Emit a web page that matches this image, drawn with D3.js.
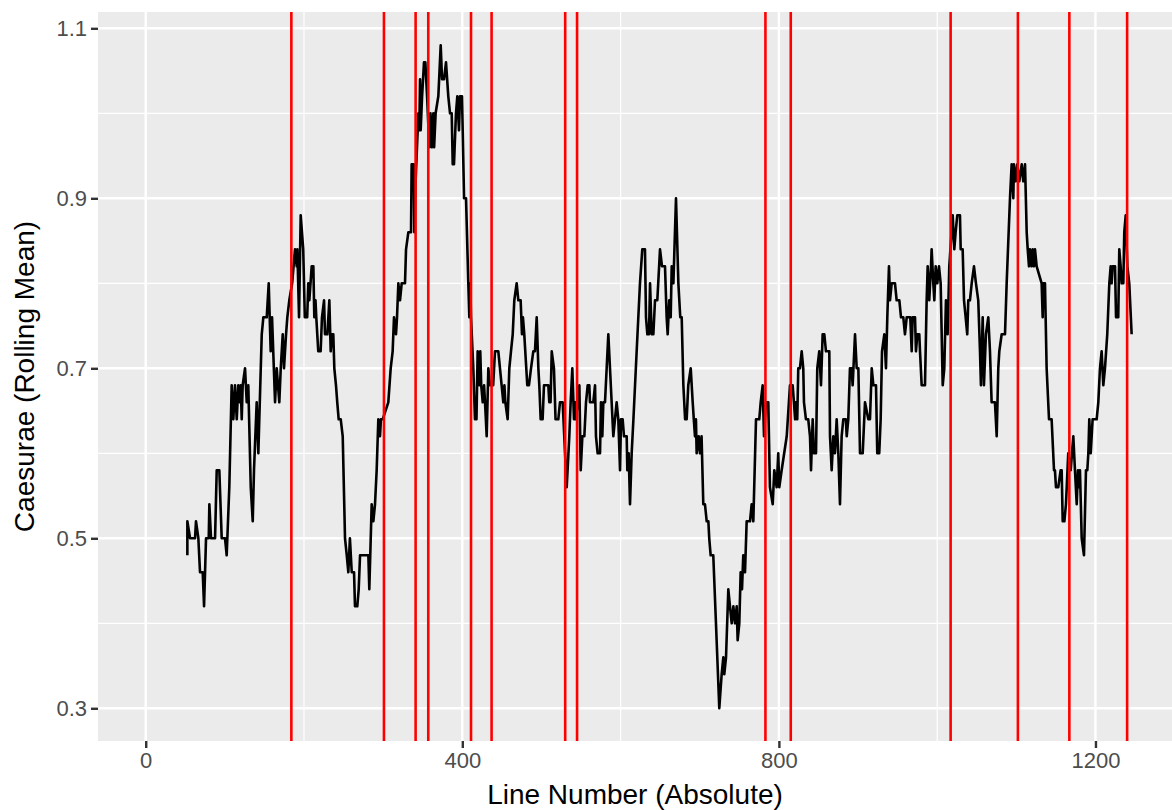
<!DOCTYPE html>
<html>
<head>
<meta charset="utf-8">
<script src="https://cdn.jsdelivr.net/npm/d3@7"></script>
<style>
  body { margin: 0; background: #ffffff; }
  svg { display: block; font-family: "Liberation Sans", Arial, Helvetica, sans-serif; }
</style>
</head>
<body>
<svg id="chart" width="1172" height="810"></svg>
<script>
// Rolling mean of caesurae per line (vertices of the trace)
const lineNumber = [
  52.6,52.6,56,62.3,63.5,66.5,68.6,72,73.7,76.2,79.6,80.4,82.5,87.6,89.7,93,96,100.2,102.3,105.6,
  108.6,110.7,112.8,115,117,119.1,120,121.3,122.5,125.5,127.6,129.6,132.7,135.2,136.8,140.2,142.3,143.5,146.6,148.6,
  152.9,155.4,157.9,159.6,163.4,165.5,168.8,170.6,173.1,174.7,177.3,178.9,181.4,185,188.6,190.8,191.6,193.7,195.8,199,
  201,204,205.4,206.7,209.7,211.8,213,214.5,215.5,218,221,222.7,225.3,226.5,229.5,232,233.7,235.4,237,238.3,
  240.4,242,243.8,246.4,248.9,251.8,254,256,258,260.3,263.2,264.4,267.3,269.1,270.8,281.3,282.5,285.5,287.6,289.7,
  291.8,293.9,296,297.2,299.4,306.5,309.5,312,313.7,316.2,317.5,319.2,321.3,323.4,327.6,328.9,331.8,335.2,336,338.7,
  339.4,341,344.5,345.7,346.6,347.4,349.2,351.6,353.3,355.5,358.3,359.8,361.3,363.4,364.4,366.3,369.7,372.7,374.4,376.9,
  379.4,382.3,384.5,386.6,387.9,389.5,392,393.7,395.8,397.1,399.6,400.5,402.2,404.7,407.6,408.9,410.1,411,413.9,416,
  417.9,419.4,421.5,422.7,423.9,425.8,427.5,428.7,430.8,432.9,435,439,441.3,445.5,447.6,449.7,451.8,453.2,454.4,457.3,
  459.4,461.5,463.7,465.7,468.7,470.8,473.7,475.4,476.6,478.3,482.1,484.2,486.8,489.7,491.8,494,496.1,497.3,499,501.5,
  503.2,508.7,509.9,511.5,513,515.8,517.8,521.3,523.4,526.8,529.8,531.9,535.2,536.9,539,541.1,542.8,543.6,547.9,549.6,
  551.7,554.2,556.3,558.4,560.5,561.3,565.5,567.7,568.9,571,574,575.2,576.9,578.2,580.3,582.4,584.5,586.6,588.7,590.8,
  592.9,595,597.1,599.3,600.5,602.6,604.3,607.7,608.5,610.2,611.9,614,616.2,620.3,624.5,627.4,630.8,632.1,633.8,635.9,
  637.2,639.3,641.4,643.5,646.4,649.8,652.3,656.1,658.2,659.5,661.5,663.3,664.6,666.7,670,673,675.4,677.2,679.3,681.5,
  683.5,685.5,688.6,691.1,692.5,694,695.2,696.1,698.7,700.3,702.3,704.5,706.6,708.8,710.9,712,713.8,717.1,720.5,724.7,
  727.7,729.8,731,733.2,736.1,738.2,740.4,742.5,744.6,746.7,747.9,750,751.7,753.4,755,757.2,759.3,763.5,765.6,767.7,
  771.1,775.2,777,779.5,781.2,783.7,786.6,788.7,792.2,794.2,797.2,799.2,800.5,803.5,809.9,814,817.4,819,820.5,821.5,
  823.2,824.5,826.6,828.8,830.8,831.7,834.2,837.1,839.3,840.6,842.7,844.3,846.9,848.5,851,853.2,855.3,857.4,859.5,863.7,
  864.6,866.7,868.8,870.9,873,875.1,877.2,879.3,881.4,884.6,885.7,887.7,889.8,891.9,893.2,896.2,898.3,900.4,902.5,905.9,
  908.8,913,915.1,917.3,919.4,922.7,924.3,926.8,928.6,930.3,933.2,935.3,937,939.1,940.4,942.5,946.7,948.8,952.2,954.3,
  957.2,959.3,961.5,966,967.8,969,972,973.2,974.9,977.4,978.3,980.4,984.6,986.7,988,990,992.2,993,995.1,996.4,
  998.1,1000.2,1002.3,1004.4,1007,1009,1011.1,1013.2,1015.3,1019.6,1021.6,1023.3,1025.4,1028.8,1029.7,1032.2,1033.9,1036,1038,1039.3,
  1041.4,1043.6,1046.5,1049,1051.9,1054.1,1055.3,1057.5,1059.1,1061.6,1064.6,1066.7,1068.8,1073,1075.2,1077.2,1078.5,1081.5,1085.7,1087.8,
  1092,1094.1,1096.2,1097,1099.3,1101.2,1103.8,1106.8,1108.8,1111,1113.1,1114.4,1116,1117.2,1119.3,1120.6,1122.3,1123.6,1125.7,1132,
  1133.3,1134.1,1136.2,1138.3,1141.3,1144.6,1147.6,1148.8,1150.1,1153,1156,1157.3,1158.6,1160.7,1162.7,1165.6,1168.7,1172,1174.1,1176.3,
  1177.9,1179.1,1180.4,1182.6,1185.5,1188,1189.7,1191,1192.2,1194,1196.4,1201.5,1203.6,1205.7,1207.8,1209.9,1212,1214.9,1217.5,1219.2,
  1220.4,1221.7,1224.7,1226,1228.8,1230.1,1231.8,1233.1,1235.2,1236.4,1238.2,1240.3,1242.7,1245.7
];
const rollingMean = [
  0.48,0.52,0.50,0.50,0.52,0.50,0.46,0.46,0.42,0.50,0.50,0.54,0.50,0.50,0.58,0.58,0.50,0.50,0.48,0.56,
  0.68,0.64,0.68,0.64,0.68,0.66,0.68,0.64,0.68,0.70,0.66,0.68,0.56,0.52,0.58,0.66,0.60,0.64,0.74,0.76,
  0.76,0.80,0.72,0.76,0.66,0.70,0.66,0.70,0.74,0.70,0.74,0.76,0.78,0.80,0.84,0.82,0.84,0.76,0.88,0.84,
  0.76,0.76,0.80,0.78,0.82,0.82,0.76,0.78,0.76,0.72,0.72,0.76,0.78,0.74,0.74,0.78,0.72,0.74,0.74,0.70,
  0.68,0.66,0.64,0.64,0.62,0.50,0.48,0.46,0.50,0.46,0.46,0.42,0.42,0.44,0.48,0.48,0.44,0.54,0.52,0.54,
  0.58,0.64,0.62,0.64,0.64,0.66,0.70,0.72,0.76,0.74,0.76,0.80,0.78,0.80,0.80,0.84,0.86,0.86,0.94,0.94,
  0.86,0.92,1.00,0.98,1.04,0.98,1.02,1.06,1.06,1.02,0.96,1.00,0.96,1.00,0.96,1.00,1.02,1.08,1.04,1.04,
  1.06,1.02,1.00,1.00,0.94,0.94,1.00,1.02,0.98,1.02,1.02,0.98,0.90,0.90,0.80,0.76,0.80,0.76,0.70,0.64,
  0.64,0.72,0.68,0.72,0.68,0.66,0.68,0.66,0.62,0.70,0.68,0.68,0.72,0.72,0.70,0.68,0.66,0.68,0.66,0.64,
  0.70,0.72,0.74,0.78,0.80,0.78,0.78,0.74,0.76,0.74,0.68,0.68,0.70,0.72,0.72,0.76,0.70,0.68,0.64,0.64,
  0.68,0.68,0.66,0.66,0.72,0.70,0.64,0.64,0.66,0.66,0.60,0.56,0.62,0.66,0.70,0.64,0.66,0.64,0.68,0.58,
  0.62,0.62,0.66,0.68,0.68,0.66,0.66,0.68,0.62,0.60,0.60,0.66,0.62,0.66,0.66,0.70,0.74,0.70,0.66,0.62,
  0.64,0.66,0.64,0.58,0.64,0.64,0.62,0.62,0.58,0.60,0.54,0.60,0.64,0.72,0.80,0.84,0.84,0.76,0.74,0.74,
  0.80,0.74,0.74,0.78,0.78,0.84,0.82,0.82,0.76,0.74,0.78,0.76,0.82,0.80,0.90,0.80,0.76,0.76,0.68,0.64,
  0.64,0.68,0.70,0.66,0.64,0.62,0.64,0.60,0.62,0.60,0.62,0.54,0.54,0.52,0.52,0.50,0.48,0.48,0.40,0.30,
  0.34,0.36,0.34,0.36,0.44,0.42,0.40,0.42,0.40,0.42,0.38,0.40,0.46,0.44,0.48,0.46,0.52,0.52,0.54,0.52,
  0.64,0.64,0.66,0.68,0.62,0.66,0.66,0.56,0.54,0.58,0.56,0.60,0.56,0.58,0.62,0.68,0.68,0.66,0.64,0.66,
  0.64,0.70,0.70,0.72,0.70,0.66,0.64,0.64,0.62,0.58,0.64,0.60,0.60,0.70,0.72,0.68,0.74,0.74,0.72,0.72,
  0.62,0.58,0.62,0.60,0.64,0.60,0.54,0.62,0.64,0.64,0.62,0.64,0.70,0.70,0.68,0.74,0.70,0.70,0.60,0.60,
  0.66,0.64,0.64,0.70,0.68,0.68,0.60,0.60,0.64,0.72,0.74,0.70,0.76,0.82,0.78,0.80,0.80,0.78,0.78,0.76,
  0.76,0.74,0.76,0.76,0.72,0.76,0.76,0.72,0.74,0.74,0.72,0.68,0.68,0.78,0.82,0.78,0.82,0.84,0.80,0.78,
  0.82,0.80,0.82,0.80,0.68,0.70,0.78,0.74,0.82,0.88,0.84,0.86,0.88,0.88,0.84,0.84,0.78,0.76,0.74,0.78,
  0.78,0.80,0.82,0.80,0.78,0.72,0.68,0.76,0.68,0.74,0.76,0.72,0.66,0.66,0.62,0.70,0.72,0.74,0.74,0.80,
  0.90,0.94,0.90,0.94,0.92,0.94,0.92,0.94,0.92,0.94,0.86,0.84,0.82,0.84,0.82,0.84,0.82,0.84,0.82,0.80,
  0.76,0.80,0.80,0.70,0.64,0.64,0.58,0.58,0.56,0.56,0.58,0.58,0.52,0.52,0.54,0.60,0.58,0.62,0.58,0.54,
  0.58,0.56,0.58,0.50,0.48,0.58,0.58,0.60,0.64,0.60,0.64,0.64,0.66,0.70,0.72,0.68,0.70,0.74,0.80,0.82,
  0.80,0.82,0.82,0.76,0.76,0.84,0.82,0.80,0.80,0.86,0.88,0.82,0.80,0.74
];
// Line numbers of the section boundaries
const boundaries = [184, 301, 341, 357, 411, 437, 530, 545, 783, 815, 1017, 1102, 1167, 1240];

const xTicks = [0, 400, 800, 1200];
const xMinorTicks = [200, 600, 1000];
const yTicks = [0.3, 0.5, 0.7, 0.9, 1.1];
const yMinorTicks = [0.4, 0.6, 0.8, 1.0];

const xTitle = "Line Number (Absolute)";
const yTitle = "Caesurae (Rolling Mean)";

const svg = d3.select("#chart");
const panel = { left: 98, right: 1172, top: 12, bottom: 741 };

const x = d3.scaleLinear().domain([-60.3, 1296.7]).range([panel.left, panel.right]);
const y = d3.scaleLinear().domain([0.2615, 1.1192]).range([panel.bottom, panel.top]);

// panel background
svg.append("rect")
  .attr("x", panel.left).attr("y", panel.top)
  .attr("width", panel.right - panel.left).attr("height", panel.bottom - panel.top)
  .attr("fill", "#EBEBEB");

const grid = svg.append("g");
// minor grid
grid.selectAll(".ymin").data(yMinorTicks).join("line")
  .attr("x1", panel.left).attr("x2", panel.right)
  .attr("y1", d => y(d)).attr("y2", d => y(d))
  .attr("stroke", "#ffffff").attr("stroke-width", 1.2);
grid.selectAll(".xmin").data(xMinorTicks).join("line")
  .attr("y1", panel.top).attr("y2", panel.bottom)
  .attr("x1", d => x(d)).attr("x2", d => x(d))
  .attr("stroke", "#ffffff").attr("stroke-width", 1.2);
// major grid
grid.selectAll(".ymaj").data(yTicks).join("line")
  .attr("x1", panel.left).attr("x2", panel.right)
  .attr("y1", d => y(d)).attr("y2", d => y(d))
  .attr("stroke", "#ffffff").attr("stroke-width", 2.4);
grid.selectAll(".xmaj").data(xTicks).join("line")
  .attr("y1", panel.top).attr("y2", panel.bottom)
  .attr("x1", d => x(d)).attr("x2", d => x(d))
  .attr("stroke", "#ffffff").attr("stroke-width", 2.4);

// rolling mean trace
const points = lineNumber.map((d, i) => [d, rollingMean[i]]);
svg.append("path")
  .datum(points)
  .attr("fill", "none")
  .attr("stroke", "#000000")
  .attr("stroke-width", 2.6)
  .attr("stroke-linejoin", "round")
  .attr("d", d3.line().x(d => x(d[0])).y(d => y(d[1])));

// section boundaries
svg.append("g").selectAll("line").data(boundaries).join("line")
  .attr("x1", d => x(d)).attr("x2", d => x(d))
  .attr("y1", panel.top).attr("y2", panel.bottom)
  .attr("stroke", "#FF0000").attr("stroke-width", 2.6);

// axes
const xAxis = svg.append("g")
  .attr("transform", `translate(0,${panel.bottom})`)
  .call(d3.axisBottom(x).tickValues(xTicks).tickFormat(d3.format("d")).tickSize(7).tickPadding(4));
const yAxis = svg.append("g")
  .attr("transform", `translate(${panel.left},0)`)
  .call(d3.axisLeft(y).tickValues(yTicks).tickFormat(d3.format(".1f")).tickSize(7).tickPadding(4));

[xAxis, yAxis].forEach(a => {
  a.select(".domain").remove();
  a.selectAll(".tick line").attr("stroke", "#333333").attr("stroke-width", 2.4);
  a.selectAll(".tick text")
    .attr("fill", "#4D4D4D")
    .style("font-size", "22px")
    .style("font-family", "'Liberation Sans', Arial, Helvetica, sans-serif");
});
xAxis.selectAll(".tick text").attr("dy", "0.71em");

// axis titles
svg.append("text")
  .attr("x", (panel.left + panel.right) / 2)
  .attr("y", 804)
  .attr("text-anchor", "middle")
  .attr("fill", "#000000")
  .style("font-size", "28px")
  .text(xTitle);

svg.append("text")
  .attr("transform", `translate(34,${(panel.top + panel.bottom) / 2}) rotate(-90)`)
  .attr("text-anchor", "middle")
  .attr("fill", "#000000")
  .style("font-size", "28px")
  .text(yTitle);
</script>
</body>
</html>
